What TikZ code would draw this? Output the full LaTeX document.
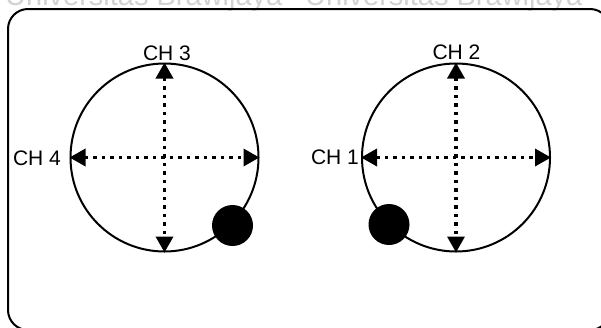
\documentclass[tikz,border=0pt]{standalone}
\usepackage{fontspec}
\setmainfont{Liberation Sans}
\usetikzlibrary{arrows.meta}
\definecolor{wm}{HTML}{D2D2D2}
\begin{document}
\begin{tikzpicture}[x=1pt,y=-1pt,
  ring/.style={circle, draw, line width=2pt, minimum size=188pt, inner sep=0pt},
  ball/.style={circle, fill=black, minimum size=41pt, inner sep=0pt},
  lbl/.style={font=\fontsize{21}{21}\selectfont, inner sep=0pt},
  tip/.style={Triangle[length=16pt,width=17pt]},
  axis/.style={line width=3.5pt, dash pattern=on 3.5pt off 5pt, {Triangle[length=16pt,width=17pt]}-{Triangle[length=16pt,width=17pt]}},
  frame/.style={draw, line width=2pt, rounded corners=20pt}]
\useasboundingbox (0,0) rectangle (601,327);
\clip (0,0) rectangle (601,327);
\fill[white] (0,0) rectangle (601,327);
% watermark
\node[text=wm, font=\fontsize{29}{29}\selectfont, anchor=base west, inner sep=0pt] (wm1) at (5,5) {Universitas Brawijaya};
\node[text=wm, font=\fontsize{29}{29}\selectfont, anchor=base west, inner sep=0pt] (wm2) at (305,5) {Universitas Brawijaya};
% frame
\draw[frame] (8,9) rectangle (610,330);
% circles
\node[ring] (L) at (164.5,157.5) {};
\node[ring] (R) at (456,157.5) {};
% axes
\draw[axis] (L.north) -- (L.south);
\draw[axis] (L.west) -- (L.east);
\draw[axis] (R.north) -- (R.south);
\draw[axis] (R.west) -- (R.east);
% balls
\node[ball] (LB) at (232.5,225.5) {};
\node[ball] (RB) at (389,224.5) {};
% labels
\node[lbl] (ch3) at (167,53) {CH 3};
\node[lbl] (ch4) at (37,158) {CH 4};
\node[lbl] (ch2) at (456.5,52) {CH 2};
\node[lbl] (ch1) at (335,157) {CH 1};
\end{tikzpicture}
\end{document}
